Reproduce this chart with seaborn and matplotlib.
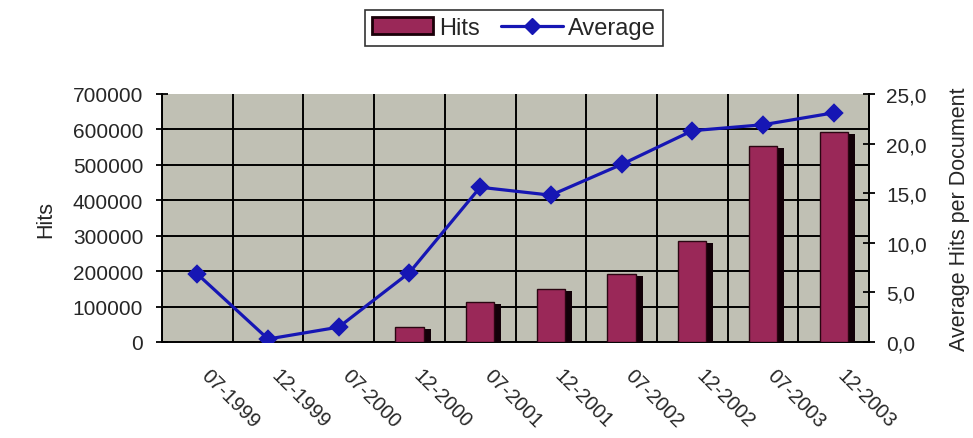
import matplotlib
matplotlib.use("Agg")
import matplotlib.pyplot as plt
import matplotlib.patheffects as pe
from matplotlib.patches import Patch
from matplotlib.lines import Line2D
from matplotlib.ticker import FuncFormatter, FixedLocator
import seaborn as sns
import numpy as np

categories = ["07-1999", "12-1999", "07-2000", "12-2000", "07-2001",
              "12-2001", "07-2002", "12-2002", "07-2003", "12-2003"]
hits = [0, 0, 0, 43000, 112000, 150000, 193000, 284000, 553000, 593000]
average = [6.85, 0.3, 1.5, 7.0, 15.6, 14.8, 17.9, 21.3, 21.9, 23.1]
left_ticks = [0, 100000, 200000, 300000, 400000, 500000, 600000, 700000]
right_ticks = [0, 5, 10, 15, 20, 25]

sns.set_theme(style="white")
plt.rcParams['font.family'] = ['Liberation Sans', 'DejaVu Sans']

bar_color = "#9a2858"
line_color = "#1616b4"
bg_color = "#c0c0b4"

fig = plt.figure(figsize=(9.73, 4.39), dpi=100)
ax = fig.add_axes([162/973, 1-343/439, (869-162)/973, (343-95)/439])
ax.set_facecolor(bg_color)

sns.barplot(x=categories, y=hits, ax=ax, color=bar_color, width=0.4,
            saturation=1, edgecolor="#2a0612", linewidth=1.0, zorder=3)
for p in ax.patches:
    p.set_path_effects([pe.SimplePatchShadow(offset=(5, -1.5), shadow_rgbFace="#120008", alpha=1.0), pe.Normal()])

ax.set_ylim(0, 700000)
ax.set_xlim(-0.5, len(categories) - 0.5)
ax.yaxis.set_major_locator(FixedLocator(left_ticks))
ax.yaxis.set_major_formatter(FuncFormatter(lambda v, p: f"{int(v)}"))
ax.set_xticks(range(len(categories)))
ax.set_xticklabels(categories, rotation=-45, ha="left", va="top", fontsize=14.5)
ax.set_xticks(np.arange(-0.5, len(categories), 1.0), minor=True)
ax.tick_params(axis="x", which="major", length=0, pad=17)
ax.tick_params(axis="x", which="minor", length=9, width=1.3, direction="inout", color="black")
ax.tick_params(axis="y", which="major", length=9, width=1.3, direction="inout",
               color="black", labelsize=15, pad=9, left=True)
ax.grid(False)
ax.yaxis.grid(True, color="black", linewidth=1.4, zorder=1)
ax.xaxis.grid(True, which="minor", color="black", linewidth=1.4, zorder=1)
ax.set_axisbelow(True)
gl = ax.get_ygridlines()
gl[-1].set_visible(False)
gl[0].set_visible(False)
ax.spines["top"].set_visible(False)
for s in ["left", "bottom", "right"]:
    ax.spines[s].set_color("black")
    ax.spines[s].set_linewidth(1.4)
ax.set_ylabel("Hits", fontsize=15.5, labelpad=12)
ax.set_xlabel("")

ax2 = ax.twinx()
sns.pointplot(x=categories, y=average, ax=ax2, color=line_color, markers="D",
              linestyles="-", markersize=8, linewidth=2.3)
ax2.set_ylim(0, 25)
ax2.set_xlim(-0.5, len(categories) - 0.5)
ax2.yaxis.set_major_locator(FixedLocator(right_ticks))
ax2.yaxis.set_major_formatter(FuncFormatter(lambda v, p: f"{v:.1f}".replace(".", ",")))
ax2.tick_params(axis="y", which="major", length=9, width=1.3, direction="inout",
                color="black", labelsize=15, pad=8, right=True)
ax2.grid(False)
for s in ["top", "left", "bottom"]:
    ax2.spines[s].set_visible(False)
ax2.spines["right"].set_color("black")
ax2.spines["right"].set_linewidth(1.4)
ax2.set_ylabel("Average Hits per Document", fontsize=15.5, labelpad=16)
ax2.set_xlabel("")

handles = [Patch(facecolor=bar_color, edgecolor="#1a0008", linewidth=2),
           Line2D([0], [0], color=line_color, marker="D", markersize=8, linewidth=2.3)]
leg = fig.legend(handles, ["Hits", "Average"], loc="center", bbox_to_anchor=(514/973, 1-29/439),
                 ncol=2, fontsize=17, frameon=True, fancybox=False, edgecolor="black",
                 handlelength=2.6, handletextpad=0.25, columnspacing=0.9, borderpad=0.3)
leg.get_frame().set_linewidth(1.2)

fig.savefig("out.png", dpi=100)
